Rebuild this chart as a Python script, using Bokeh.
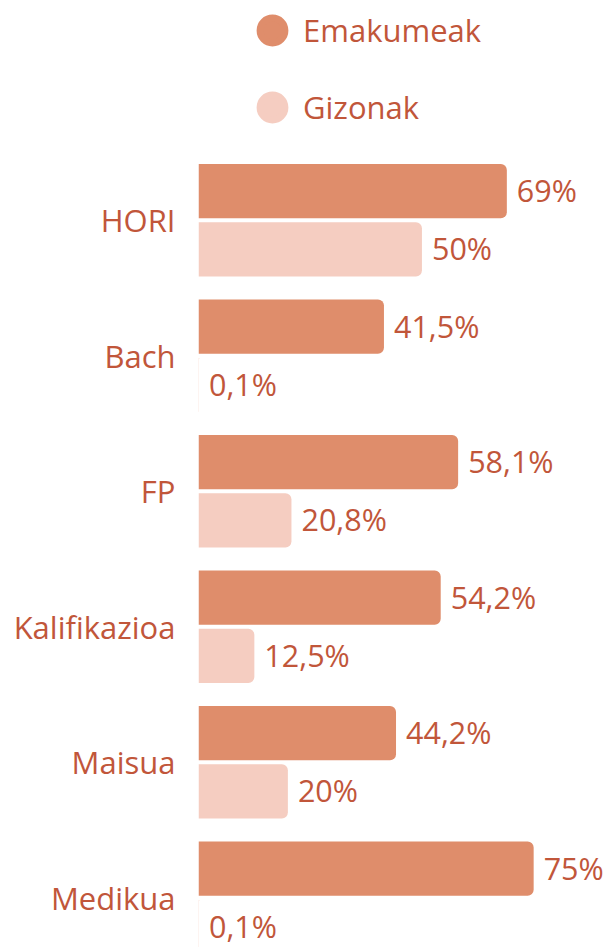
from bokeh.plotting import figure
from bokeh.models import Range1d, FixedTicker, ColumnDataSource, Legend, LegendItem
from bokeh.embed import file_html
from bokeh.resources import INLINE
from bokeh.core.properties import value

categories = ["HORI", "Bach", "FP", "Kalifikazioa", "Maisua", "Medikua"]
series_names = ["Emakumeak", "Gizonak"]
emakumeak = [69, 41.5, 58.1, 54.2, 44.2, 75]
gizonak = [50, 0.1, 20.8, 12.5, 20, 0.1]

C_DARK = "#DF8D6B"
C_LIGHT = "#F5CDC1"
C_TEXT = "#C1563A"
FONT = "Open Sans"

def fmt(v):
    return f"{v:g}".replace(".", ",") + "%"

idx = list(range(len(categories)))
OFF = 0.215
H = 0.40

src_e = ColumnDataSource(dict(y=[i - OFF for i in idx], x=emakumeak, lab=[fmt(v) for v in emakumeak]))
src_g = ColumnDataSource(dict(y=[i + OFF for i in idx], x=gizonak, lab=[fmt(v) for v in gizonak]))

p = figure(width=606, height=947, output_backend="svg", toolbar_location=None,
           x_range=Range1d(0, 91.3), y_range=Range1d(5.367, -0.5 - 152 / 135.5),
           min_border_left=198, min_border_right=0, min_border_top=0, min_border_bottom=0)
p.outline_line_color = None
p.grid.visible = False
p.xaxis.visible = False
p.extra_y_ranges = {"legend_proxy": Range1d(1000, 1001)}

p.hbar(y="y", right="x", left=0, height=H, source=src_e, fill_color=C_DARK, line_color=None,
       border_radius=(0, 6, 6, 0))
p.hbar(y="y", right="x", left=0, height=H, source=src_g, fill_color=C_LIGHT, line_color=None,
       border_radius=(0, 6, 6, 0))

for s in (src_e, src_g):
    p.text(x="x", y="y", text="lab", source=s, x_offset=10, y_offset=-1,
           text_align="left", text_baseline="middle",
           text_font=value(FONT), text_font_size="30.5px", text_color=C_TEXT)

ya = p.yaxis[0]
ya.ticker = FixedTicker(ticks=idx)
ya.major_label_overrides = {i: c for i, c in zip(idx, categories)}
ya.axis_line_color = None
ya.major_tick_line_color = None
ya.minor_tick_line_color = None
ya.major_tick_out = 0
ya.major_tick_in = 0
ya.major_label_standoff = 23
ya.major_label_text_font = FONT
ya.major_label_text_font_size = "31px"
ya.major_label_text_color = C_TEXT

# legend proxies (drawn off-screen on a hidden range; only their legend swatches show)
r1 = p.scatter(x="x", y="y", source=src_e, y_range_name="legend_proxy", size=24,
               fill_color=C_DARK, line_color=C_DARK, line_width=7)
r2 = p.scatter(x="x", y="y", source=src_g, y_range_name="legend_proxy", size=24,
               fill_color=C_LIGHT, line_color=C_LIGHT, line_width=7)
legend = Legend(items=[LegendItem(label=series_names[0], renderers=[r1]),
                       LegendItem(label=series_names[1], renderers=[r2])],
                location=(43, 809), orientation="vertical",
                glyph_width=62, glyph_height=62, label_standoff=0, spacing=15,
                padding=0, margin=0, border_line_color=None, background_fill_alpha=0,
                label_text_font=FONT, label_text_font_size="31px", label_text_color=C_TEXT)
p.add_layout(legend, "center")

open("out.html", "w").write(file_html(p, INLINE))
